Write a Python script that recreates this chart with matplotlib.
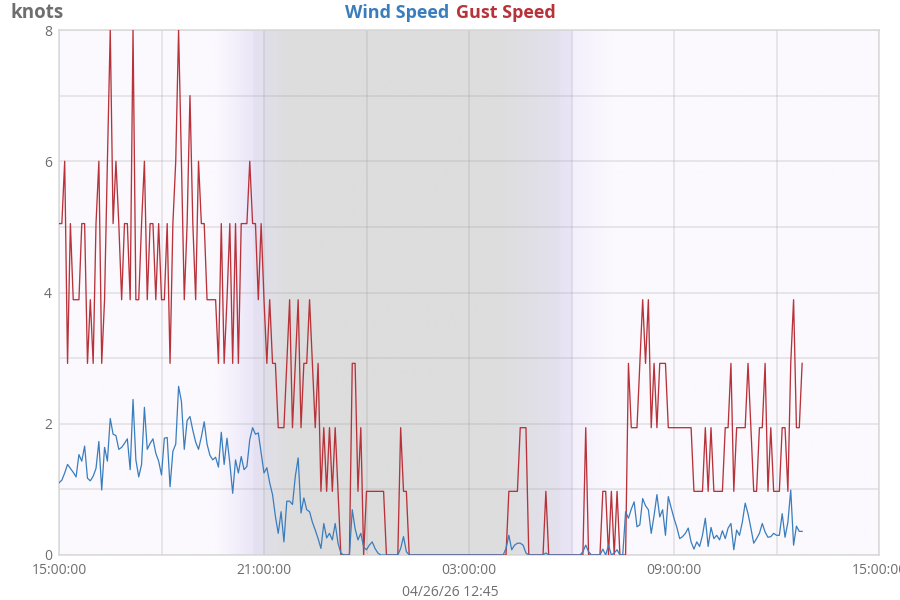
import numpy as np
import pandas as pd
import matplotlib
matplotlib.use("Agg")
import matplotlib.pyplot as plt
import matplotlib.dates as mdates
from matplotlib.colors import to_rgb

plt.rcParams["font.family"] = ["Open Sans", "DejaVu Sans"]

# time axis: one day window, readings every 5 minutes
start = "2026-04-25 15:00"
end = "2026-04-26 15:00"
step = "5min"

# wind speed (knots), one row per hour
wind_knots = [
    1.10, 1.14, 1.25, 1.38, 1.32, 1.26, 1.19, 1.53, 1.43, 1.66, 1.17, 1.13,
    1.20, 1.32, 1.73, 0.99, 1.64, 1.43, 2.08, 1.84, 1.82, 1.61, 1.64, 1.70,
    1.77, 1.30, 2.37, 1.45, 1.19, 1.38, 2.25, 1.61, 1.70, 1.77, 1.55, 1.43,
    1.22, 1.78, 1.79, 1.04, 1.58, 1.69, 2.57, 2.34, 1.61, 2.05, 2.11, 1.90,
    1.72, 1.61, 1.80, 2.03, 1.69, 1.52, 1.45, 1.49, 1.34, 1.87, 1.38, 1.78,
    1.40, 0.94, 1.45, 1.25, 1.50, 1.30, 1.35, 1.76, 1.94, 1.84, 1.86, 1.56,
    1.25, 1.33, 1.10, 0.92, 0.59, 0.33, 0.66, 0.20, 0.82, 0.82, 0.77, 1.20,
    1.48, 0.64, 0.87, 0.69, 0.66, 0.50, 0.38, 0.25, 0.10, 0.48, 0.26, 0.33,
    0.23, 0.48, 0.18, 0.03, 0.00, 0.00, 0.00, 0.69, 0.40, 0.23, 0.33, 0.12,
    0.08, 0.15, 0.20, 0.10, 0.03, 0.00, 0.00, 0.00, 0.00, 0.00, 0.00, 0.00,
    0.10, 0.28, 0.05, 0.00, 0.00, 0.00, 0.00, 0.00, 0.00, 0.00, 0.00, 0.00,
    0.00, 0.00, 0.00, 0.00, 0.00, 0.00, 0.00, 0.00, 0.00, 0.00, 0.00, 0.00,
    0.00, 0.00, 0.00, 0.00, 0.00, 0.00, 0.00, 0.00, 0.00, 0.00, 0.00, 0.00,
    0.00, 0.10, 0.30, 0.08, 0.15, 0.18, 0.18, 0.15, 0.03, 0.00, 0.00, 0.00,
    0.00, 0.00, 0.00, 0.03, 0.00, 0.00, 0.00, 0.00, 0.00, 0.00, 0.00, 0.00,
    0.00, 0.00, 0.00, 0.00, 0.05, 0.15, 0.05, 0.00, 0.00, 0.00, 0.00, 0.09,
    0.00, 0.15, 0.00, 0.03, 0.08, 0.00, 0.00, 0.66, 0.56, 0.70, 0.81, 0.43,
    0.46, 0.86, 0.75, 0.69, 0.33, 0.60, 0.92, 0.58, 0.69, 0.30, 0.89, 0.72,
    0.56, 0.42, 0.25, 0.28, 0.33, 0.41, 0.20, 0.09, 0.20, 0.13, 0.30, 0.56,
    0.13, 0.42, 0.25, 0.30, 0.23, 0.37, 0.25, 0.41, 0.48, 0.08, 0.38, 0.30,
    0.50, 0.79, 0.63, 0.41, 0.18, 0.25, 0.33, 0.48, 0.35, 0.27, 0.28, 0.33,
    0.30, 0.30, 0.63, 0.27, 0.50, 0.99, 0.15, 0.44, 0.36, 0.36,
]

# gust speed (knots), one row per hour
gust_knots = [
    5.05, 5.05, 6.00, 2.92, 5.05, 3.89, 3.89, 3.89, 5.05, 5.05, 2.92, 3.89,
    2.92, 5.05, 6.00, 2.92, 3.89, 6.00, 8.00, 5.05, 6.00, 5.05, 3.89, 5.05,
    5.05, 3.89, 8.00, 3.89, 3.89, 5.05, 6.00, 3.89, 5.05, 5.05, 3.89, 5.05,
    3.89, 3.89, 5.05, 2.92, 5.05, 6.00, 8.00, 6.00, 3.89, 5.05, 7.00, 5.05,
    3.89, 6.00, 5.05, 5.05, 3.89, 3.89, 3.89, 3.89, 2.92, 5.05, 2.92, 3.89,
    5.05, 2.92, 5.05, 2.92, 5.05, 5.05, 5.05, 6.00, 5.05, 5.05, 3.89, 5.05,
    3.89, 2.92, 3.89, 2.92, 2.92, 1.94, 1.94, 1.94, 2.92, 3.89, 1.94, 2.92,
    3.89, 1.94, 2.92, 2.92, 3.89, 2.92, 1.94, 2.92, 0.97, 1.94, 0.97, 1.94,
    0.97, 1.94, 0.97, 0.00, 0.00, 0.00, 0.00, 2.92, 2.92, 0.97, 1.94, 0.00,
    0.97, 0.97, 0.97, 0.97, 0.97, 0.97, 0.97, 0.00, 0.00, 0.00, 0.00, 0.00,
    1.94, 0.97, 0.97, 0.00, 0.00, 0.00, 0.00, 0.00, 0.00, 0.00, 0.00, 0.00,
    0.00, 0.00, 0.00, 0.00, 0.00, 0.00, 0.00, 0.00, 0.00, 0.00, 0.00, 0.00,
    0.00, 0.00, 0.00, 0.00, 0.00, 0.00, 0.00, 0.00, 0.00, 0.00, 0.00, 0.00,
    0.00, 0.00, 0.97, 0.97, 0.97, 0.97, 1.94, 1.94, 1.94, 0.00, 0.00, 0.00,
    0.00, 0.00, 0.00, 0.97, 0.00, 0.00, 0.00, 0.00, 0.00, 0.00, 0.00, 0.00,
    0.00, 0.00, 0.00, 0.00, 0.00, 1.94, 0.00, 0.00, 0.00, 0.00, 0.00, 0.97,
    0.97, 0.00, 0.97, 0.00, 0.97, 0.00, 0.00, 0.00, 2.92, 1.94, 1.94, 1.94,
    2.92, 3.89, 2.92, 3.89, 1.94, 2.92, 1.94, 2.92, 2.92, 2.92, 1.94, 1.94,
    1.94, 1.94, 1.94, 1.94, 1.94, 1.94, 1.94, 0.97, 0.97, 0.97, 0.97, 1.94,
    0.97, 1.94, 0.97, 0.97, 0.97, 0.97, 1.94, 1.94, 2.92, 0.97, 1.94, 1.94,
    1.94, 1.94, 2.92, 1.94, 0.97, 0.97, 1.94, 1.94, 2.92, 0.97, 1.94, 0.97,
    0.97, 0.97, 1.94, 1.94, 0.97, 2.92, 3.89, 1.94, 1.94, 2.92,
]

y_ticks = [0, 2, 4, 6, 8]
y_minor = [1, 3, 5, 7]
y_max = 8
unit_label = "knots"
updated_label = "04/26/26 12:45"

WIND_COLOR = "#3a7dbd"
GUST_COLOR = "#b8323a"
TEXT_GRAY = "#6e6e6e"
GRID_GRAY = "#d8d8d8"

# day / twilight / night background: (hours after start, colour)
BG = "#fbf9fe"
shade_stops = [
    (0.0, BG), (4.6, BG),
    (5.68, "#ebe6f8"), (5.685, "#e5e1f2"),
    (6.0, "#e3e0ef"), (6.005, "#e0dfe9"),
    (6.8, "#dddddd"), (12.8, "#dddddd"),
    (14.66, "#e3e1ed"), (14.665, "#e7e3f3"),
    (15.0, "#e9e5f6"), (15.005, "#f3effc"),
    (16.2, BG), (24.0, BG),
]

fig = plt.figure(figsize=(9, 6), dpi=100)
ax = fig.add_axes([59 / 900, 45 / 600, 820 / 900, 525 / 600])

t_wind = pd.date_range(start, periods=len(wind_knots), freq=step)
t_gust = pd.date_range(start, periods=len(gust_knots), freq=step)

ax.plot(t_gust, gust_knots, color=GUST_COLOR, lw=0.95, zorder=3)
ax.plot(t_wind, wind_knots, color=WIND_COLOR, lw=0.9, zorder=4)

# background gradient
t0 = mdates.date2num(pd.Timestamp(start))
t1 = mdates.date2num(pd.Timestamp(end))
hrs = np.linspace(0, 24, 4000)
stop_h = [h for h, _ in shade_stops]
stop_rgb = np.array([to_rgb(c) for _, c in shade_stops])
img = np.stack([np.interp(hrs, stop_h, stop_rgb[:, k]) for k in range(3)], axis=-1)[None, :, :]
ax.imshow(img, extent=[t0, t1, 0, y_max], aspect="auto", zorder=0, interpolation="bilinear")

ax.set_xlim(pd.Timestamp(start), pd.Timestamp(end))
ax.set_ylim(0, y_max)

ax.xaxis.set_major_locator(mdates.HourLocator(byhour=[3, 9, 15, 21]))
ax.xaxis.set_minor_locator(mdates.HourLocator(byhour=[0, 6, 12, 18]))
ax.xaxis.set_major_formatter(mdates.DateFormatter("%H:%M:%S"))
ax.set_yticks(y_ticks)
ax.set_yticks(y_minor, minor=True)
ax.grid(True, which="both", color="#a0a0a0", alpha=0.28, lw=1.1)

ax.tick_params(which="both", length=0, labelcolor=TEXT_GRAY, labelsize=10)
ax.tick_params(axis="x", pad=6)
ax.tick_params(axis="y", pad=5)
for sp in ax.spines.values():
    sp.set_color(GRID_GRAY)
    sp.set_linewidth(1.1)

# header texts
fig.text(11 / 900, 1 - 13 / 600, unit_label, fontsize=13.5, fontweight="bold",
         color=TEXT_GRAY, ha="left", va="center")
fig.text(449 / 900, 1 - 13 / 600, "Wind Speed", fontsize=13, fontweight="bold",
         color=WIND_COLOR, ha="right", va="center")
fig.text(456 / 900, 1 - 13 / 600, "Gust Speed", fontsize=13, fontweight="bold",
         color=GUST_COLOR, ha="left", va="center")
fig.text(0.5, 1 - 593 / 600, updated_label, fontsize=10, color=TEXT_GRAY,
         ha="center", va="center")

fig.savefig("out.png", dpi=100)
